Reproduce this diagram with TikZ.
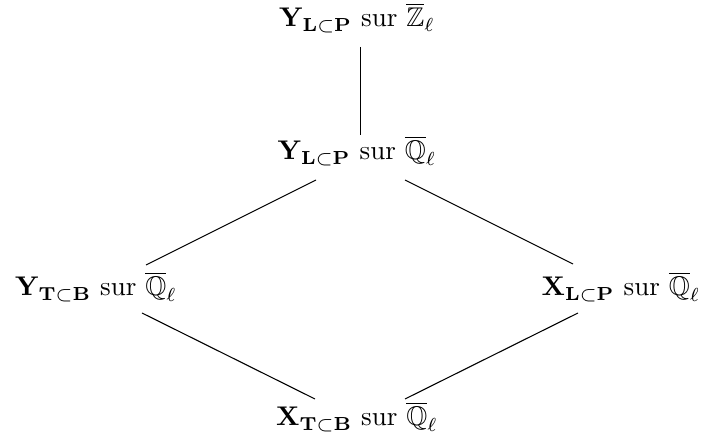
\documentclass[tikz,border=0pt]{standalone}
\usepackage{amsmath,amssymb,bm}
\usetikzlibrary{positioning,calc}

\begin{document}
\begin{tikzpicture}[x=0.37pt, y=-0.37pt, every node/.style={anchor=base, inner sep=0pt}]
\useasboundingbox (0,0) rectangle (706,444);
\node (ylpz) at (357,27) {$\mathbf{Y}_{\mathbf{L}\subset\mathbf{P}}$ sur $\overline{\mathbb{Z}}_\ell$};
\node (ylpq) at (357,160) {$\mathbf{Y}_{\mathbf{L}\subset\mathbf{P}}$ sur $\overline{\mathbb{Q}}_\ell$};
\node (ytbq) at (96,296) {$\mathbf{Y}_{\mathbf{T}\subset\mathbf{B}}$ sur $\overline{\mathbb{Q}}_\ell$};
\node (xlpq) at (621,296) {$\mathbf{X}_{\mathbf{L}\subset\mathbf{P}}$ sur $\overline{\mathbb{Q}}_\ell$};
\node (xtbq) at (357,426) {$\mathbf{X}_{\mathbf{T}\subset\mathbf{B}}$ sur $\overline{\mathbb{Q}}_\ell$};
\draw ($(ylpz.base)+(3.5,20)$) -- ($(ylpq.base)+(3.5,-25)$);
\draw ($(ylpq.base)+(-41,20)$) -- ($(ytbq.base)+(50,-31)$);
\draw ($(ylpq.base)+(48,20)$) -- ($(xlpq.base)+(-48,-32)$);
\draw ($(ytbq.base)+(46,17)$) -- ($(xtbq.base)+(-42,-27)$);
\draw ($(xlpq.base)+(-43,17)$) -- ($(xtbq.base)+(48,-27)$);
\end{tikzpicture}
\end{document}
